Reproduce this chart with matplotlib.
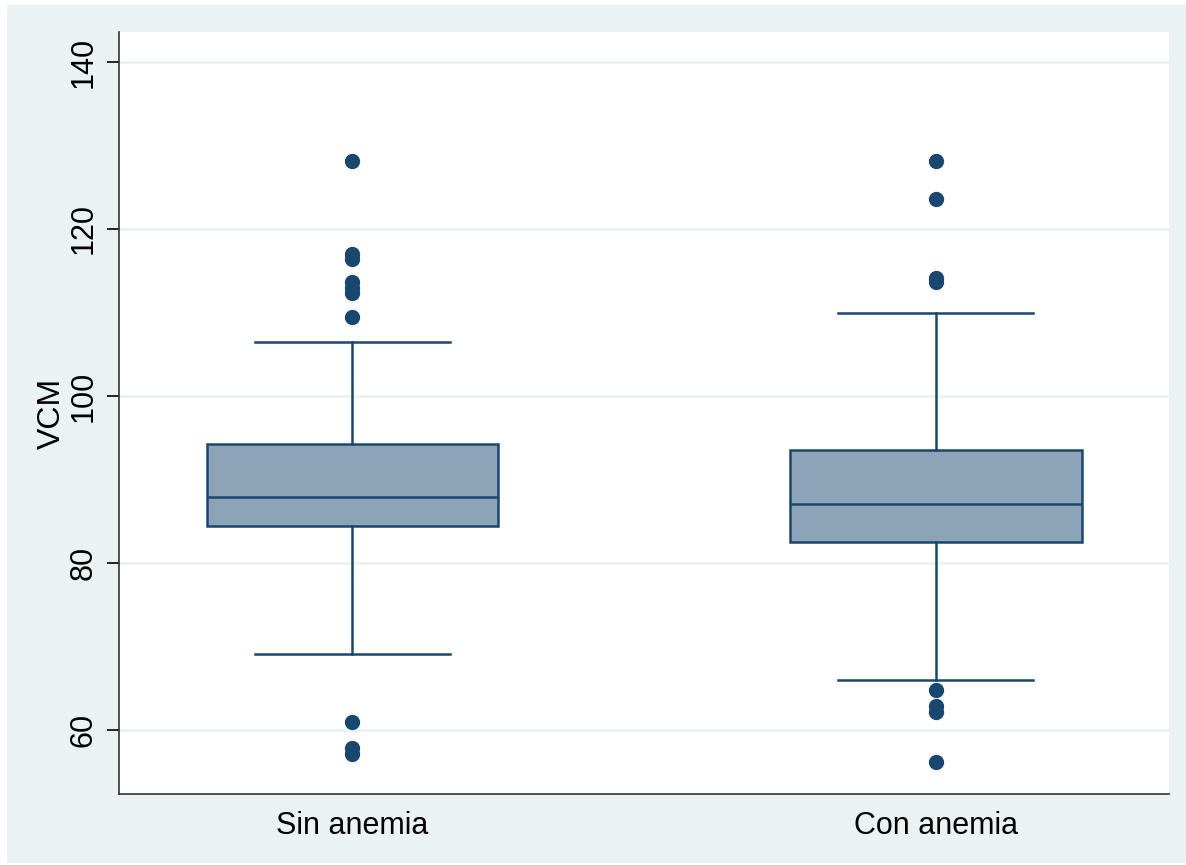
import matplotlib.pyplot as plt
from matplotlib.patches import Rectangle

# valores (VCM por grupo)
grupos = ['Sin anemia', 'Con anemia']
q1 = [84.4, 82.5]
mediana = [87.9, 87.0]
q3 = [94.2, 93.5]
bigote_inf = [69.1, 66.0]
bigote_sup = [106.5, 109.9]
atipicos = [
    [128.2, 117.0, 116.4, 113.7, 112.9, 112.3, 109.4, 60.9, 57.8, 57.1],
    [128.2, 123.6, 114.1, 113.6, 64.8, 62.9, 62.1, 56.1],
]
ticks_y = [60, 80, 100, 120, 140]

azul = '#1A476F'
relleno = '#8DA3B8'
fondo = '#EAF2F3'

plt.rcParams['font.family'] = ['Liberation Sans', 'DejaVu Sans']

fig = plt.figure(figsize=(11.86, 8.65), dpi=100)
fig.patch.set_facecolor('white')
# fondo gris azulado estilo Stata
fig.add_artist(Rectangle((7 / 1186, 2 / 865), 1179 / 1186, 858 / 865,
                         transform=fig.transFigure, facecolor=fondo,
                         edgecolor='none', zorder=-10))

ax = fig.add_axes([119 / 1186, 71 / 865, 1050 / 1186, 762 / 865])
ax.set_facecolor('white')

stats = []
for i in range(len(grupos)):
    stats.append({'q1': q1[i], 'med': mediana[i], 'q3': q3[i],
                  'whislo': bigote_inf[i], 'whishi': bigote_sup[i],
                  'fliers': atipicos[i], 'label': grupos[i]})

ax.bxp(stats, positions=[1, 2], widths=0.5, capwidths=0.334, patch_artist=True,
       boxprops=dict(facecolor=relleno, edgecolor=azul, linewidth=1.8),
       medianprops=dict(color=azul, linewidth=1.8),
       whiskerprops=dict(color=azul, linewidth=1.8),
       capprops=dict(color=azul, linewidth=1.8),
       flierprops=dict(marker='o', markerfacecolor=azul, markeredgecolor=azul,
                       markersize=10))

ax.set_xlim(0.6, 2.4)
ax.set_ylim(52.3, 143.6)
ax.set_yticks(ticks_y)
ax.set_yticklabels([str(t) for t in ticks_y], rotation=90, va='center', fontsize=22)
ax.tick_params(axis='y', length=9, width=1.2, pad=6)
ax.tick_params(axis='x', length=0, labelsize=22, pad=12)
ax.set_ylabel('VCM', fontsize=23, labelpad=1)

ax.grid(axis='y', color=fondo, linewidth=2)
ax.set_axisbelow(True)
for lado in ['top', 'right']:
    ax.spines[lado].set_visible(False)
for lado in ['left', 'bottom']:
    ax.spines[lado].set_color('#333333')
    ax.spines[lado].set_linewidth(1.2)

plt.savefig('out.png', dpi=100)
